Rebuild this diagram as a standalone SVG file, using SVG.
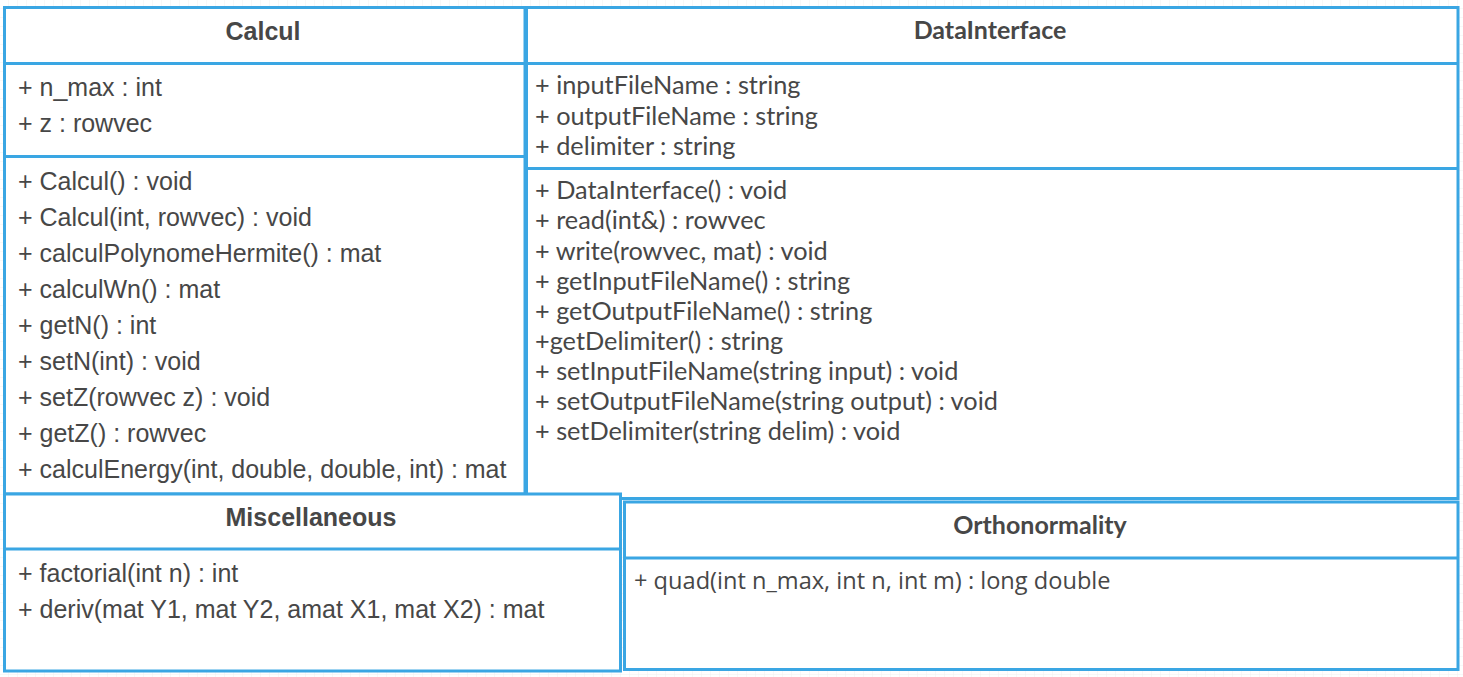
<svg xmlns="http://www.w3.org/2000/svg" width="1463" height="677" viewBox="0 0 1463 677">
  <defs>
    <pattern id="grid" width="9" height="9" patternUnits="userSpaceOnUse">
      <path d="M9 0V9M0 9H9" fill="none" stroke="#f1f1f1" stroke-width="1"/>
    </pattern>
    <style>
      .box { fill: #ffffff; stroke: #3aa6e3; stroke-width: 3; }
      .div { stroke: #3aa6e3; stroke-width: 3; fill: none; }
      .arial { font-family: "Liberation Sans", Arial, sans-serif; font-size: 25px; fill: #474747; }
      .arialb { font-family: "Liberation Sans", Arial, sans-serif; font-size: 25px; font-weight: bold; fill: #474747; text-anchor: middle; }
      .lato { font-family: Lato, "Liberation Sans", sans-serif; font-size: 25.3px; fill: #474747; }
      .latob { font-family: Lato, "Liberation Sans", sans-serif; font-size: 25px; font-weight: bold; fill: #474747; text-anchor: middle; }
      .open { font-family: "Open Sans", "Noto Sans", sans-serif; font-size: 23.6px; fill: #474747; }
    </style>
  </defs>
  <rect x="0" y="0" width="1463" height="677" fill="#ffffff"/>
  <rect x="0" y="0" width="1463" height="677" fill="url(#grid)"/>

  <g id="Calcul">
    <rect class="box" x="4.5" y="7.5" width="520.5" height="486.5"/>
    <line class="div" x1="4.5" y1="63.5" x2="525" y2="63.5"/>
    <line class="div" x1="4.5" y1="156.5" x2="525" y2="156.5"/>
    <text class="arialb" x="263" y="40">Calcul</text>
    <text class="arial" x="18" y="96">+ n_max : int</text>
    <text class="arial" x="18" y="132">+ z : rowvec</text>
    <text class="arial" x="18" y="190">+ Calcul() : void</text>
    <text class="arial" x="18" y="226">+ Calcul(int, rowvec) : void</text>
    <text class="arial" x="18" y="262">+ calculPolynomeHermite() : mat</text>
    <text class="arial" x="18" y="298">+ calculWn() : mat</text>
    <text class="arial" x="18" y="334">+ getN() : int</text>
    <text class="arial" x="18" y="370">+ setN(int) : void</text>
    <text class="arial" x="18" y="406">+ setZ(rowvec z) : void</text>
    <text class="arial" x="18" y="442">+ getZ() : rowvec</text>
    <text class="arial" x="18" y="478">+ calculEnergy(int, double, double, int) : mat</text>
  </g>

  <g id="DataInterface">
    <rect class="box" x="526.5" y="7.5" width="931.5" height="491"/>
    <line class="div" x1="526.5" y1="63.5" x2="1458" y2="63.5"/>
    <line class="div" x1="526.5" y1="168.5" x2="1458" y2="168.5"/>
    <text class="latob" x="990" y="39">DataInterface</text>
    <text class="lato" x="535" y="94">+ inputFileName : string</text>
    <text class="lato" x="535" y="125">+ outputFileName : string</text>
    <text class="lato" x="535" y="155">+ delimiter : string</text>
    <text class="lato" x="535" y="199">+ DataInterface() : void</text>
    <text class="lato" x="535" y="229">+ read(int&amp;) : rowvec</text>
    <text class="lato" x="535" y="260">+ write(rowvec, mat) : void</text>
    <text class="lato" x="535" y="290">+ getInputFileName() : string</text>
    <text class="lato" x="535" y="320">+ getOutputFileName() : string</text>
    <text class="lato" x="535" y="350">+getDelimiter() : string</text>
    <text class="lato" x="535" y="380">+ setInputFileName(string input) : void</text>
    <text class="lato" x="535" y="410">+ setOutputFileName(string output) : void</text>
    <text class="lato" x="535" y="440">+ setDelimiter(string delim) : void</text>
  </g>

  <g id="Miscellaneous">
    <rect class="box" x="4.5" y="494" width="616" height="177"/>
    <line class="div" x1="4.5" y1="549" x2="620.5" y2="549"/>
    <text class="arialb" x="311" y="526">Miscellaneous</text>
    <text class="arial" x="18" y="582">+ factorial(int n) : int</text>
    <text class="arial" x="18" y="618">+ deriv(mat Y1, mat Y2, amat X1, mat X2) : mat</text>
  </g>

  <g id="Orthonormality">
    <rect class="box" x="624.5" y="502" width="833.5" height="167.5"/>
    <line class="div" x1="624.5" y1="558" x2="1458" y2="558"/>
    <text class="latob" x="1040" y="534">Orthonormality</text>
    <text class="open" x="634" y="589">+ quad(int n_max, int n, int m) : long double</text>
  </g>

  <g id="connectors"></g>
</svg>
